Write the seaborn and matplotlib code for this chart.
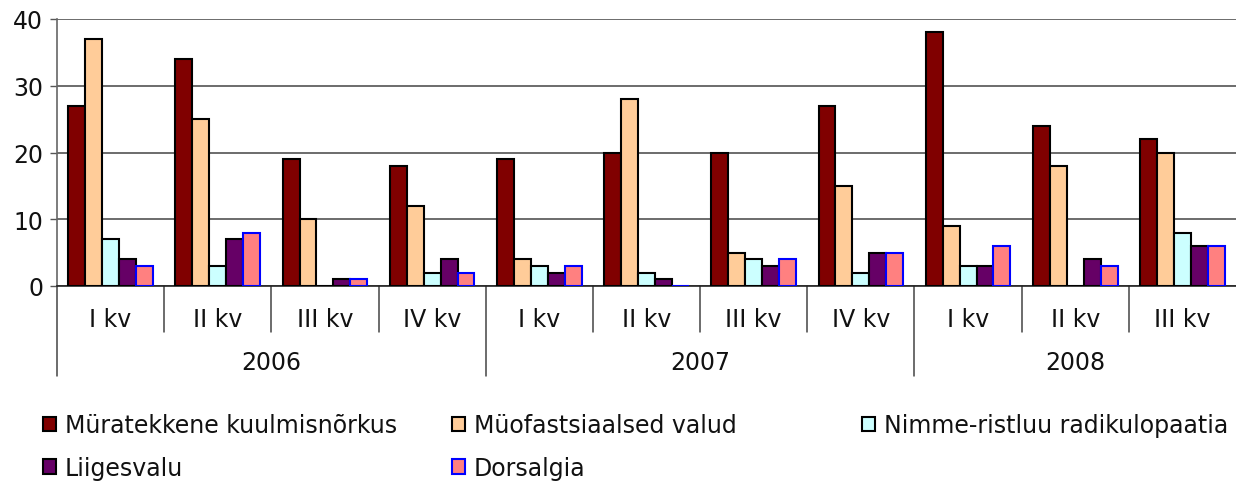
import numpy as np
import pandas as pd
import matplotlib
matplotlib.use("Agg")
import matplotlib.pyplot as plt
import matplotlib.transforms as mtransforms
from matplotlib.patches import Patch
import seaborn as sns

# ---- data ----
years = ["2006", "2007", "2008"]
quarters = [["I kv", "II kv", "III kv", "IV kv"],
            ["I kv", "II kv", "III kv", "IV kv"],
            ["I kv", "II kv", "III kv"]]
series = ["Müratekkene kuulmisnõrkus", "Müofastsiaalsed valud",
          "Nimme-ristluu radikulopaatia", "Liigesvalu", "Dorsalgia"]
muratekkene = [27, 34, 19, 18, 19, 20, 20, 27, 38, 24, 22]
myofastsiaalsed = [37, 25, 10, 12, 4, 28, 5, 15, 9, 18, 20]
nimme_ristluu = [7, 3, 0, 2, 3, 2, 4, 2, 3, 0, 8]
liigesvalu = [4, 7, 1, 4, 2, 1, 3, 5, 3, 4, 6]
dorsalgia = [3, 8, 1, 2, 3, 0, 4, 5, 6, 3, 6]

colors = ["#800000", "#FFCC99", "#CCFFFF", "#660066", "#FF8080"]
edges = ["#000000", "#000000", "#000000", "#000000", "#0000FF"]

# ---- build long table ----
periods = []
for y, qs in zip(years, quarters):
    for q in qs:
        periods.append(f"{y} {q}")
values = [muratekkene, myofastsiaalsed, nimme_ristluu, liigesvalu, dorsalgia]
rows = []
for s, vals in zip(series, values):
    for p, v in zip(periods, vals):
        rows.append({"period": p, "series": s, "value": v})
df = pd.DataFrame(rows)

sns.set_style("white")
plt.rcParams["font.family"] = ["DejaVu Sans"]
FS = 17

W, H = 1236, 485
fig = plt.figure(figsize=(W / 100, H / 100), dpi=100)
left, right, top, bottom = 57, 1236, 20, 287
ax = fig.add_axes([left / W, 1 - bottom / H, (right - left) / W, (bottom - top) / H])

sns.barplot(data=df, x="period", y="value", hue="series", order=periods,
            hue_order=series, palette=dict(zip(series, colors)), saturation=1,
            width=0.79, edgecolor="black", linewidth=1.5, legend=False,
            errorbar=None, ax=ax, zorder=3)
for cont, ec in zip(ax.containers, edges):
    for bar in cont:
        bar.set_edgecolor(ec)
        bar.set_zorder(3)

ax.set_xlim(-0.5, len(periods) - 0.5)
ax.set_ylim(0, 40)
ax.set_yticks([0, 10, 20, 30, 40])
ax.set_yticklabels(["0", "10", "20", "30", "40"], fontsize=FS, color="#111111")
ax.tick_params(axis="y", length=5, width=1, color="#555555", pad=5, left=True)
ax.set_xticks([])
ax.set_xlabel("")
ax.set_ylabel("")
ax.yaxis.grid(True, color="#444444", linewidth=1.1, zorder=0)
ax.set_axisbelow(True)
for side in ["top", "right"]:
    ax.spines[side].set_visible(False)
ax.spines["left"].set_color("#666666")
ax.spines["left"].set_linewidth(1.2)
ax.spines["bottom"].set_color("#222222")
ax.spines["bottom"].set_linewidth(1.2)

# ---- two-level category axis ----
trans = mtransforms.blended_transform_factory(ax.transData, ax.transAxes)
h_px = bottom - top
q_label_y = (bottom - 320) / h_px
y_label_y = (bottom - 363) / h_px
q_sep_y = (bottom - 333) / h_px
y_sep_y = (bottom - 377) / h_px

idx = 0
year_bounds = []
for y, qs in zip(years, quarters):
    start = idx
    for q in qs:
        ax.text(idx, q_label_y, q, transform=trans, ha="center", va="center",
                fontsize=FS, color="#111111", clip_on=False)
        idx += 1
    ax.text((start + idx - 1) / 2, y_label_y, y, transform=trans, ha="center",
            va="center", fontsize=FS, color="#111111", clip_on=False)
    year_bounds.append(start - 0.5)

for b in range(1, len(periods)):
    xb = b - 0.5
    if xb in year_bounds:
        continue
    ax.plot([xb, xb], [0, q_sep_y], transform=trans, color="#444444",
            linewidth=1.1, clip_on=False)
for xb in year_bounds:
    ax.plot([xb, xb], [0, y_sep_y], transform=trans, color="#444444",
            linewidth=1.1, clip_on=False)

# ---- legend: three columns placed like the original ----
handles = [Patch(facecolor=c, edgecolor=e, linewidth=1.5) for c, e in zip(colors, edges)]
col_x = [43 / W, 452 / W, 862 / W]
col_items = [[0, 3], [1, 4], [2]]
for cx, items in zip(col_x, col_items):
    leg = fig.legend([handles[i] for i in items], [series[i] for i in items],
                     loc="upper left", bbox_to_anchor=(cx, 1 - 414 / H),
                     frameon=False, fontsize=FS, handlelength=0.55,
                     handleheight=0.55, handletextpad=0.38, labelspacing=0.8,
                     borderpad=0, borderaxespad=0)
    for t in leg.get_texts():
        t.set_color("#111111")

fig.savefig("out.png", dpi=100, facecolor="white")
